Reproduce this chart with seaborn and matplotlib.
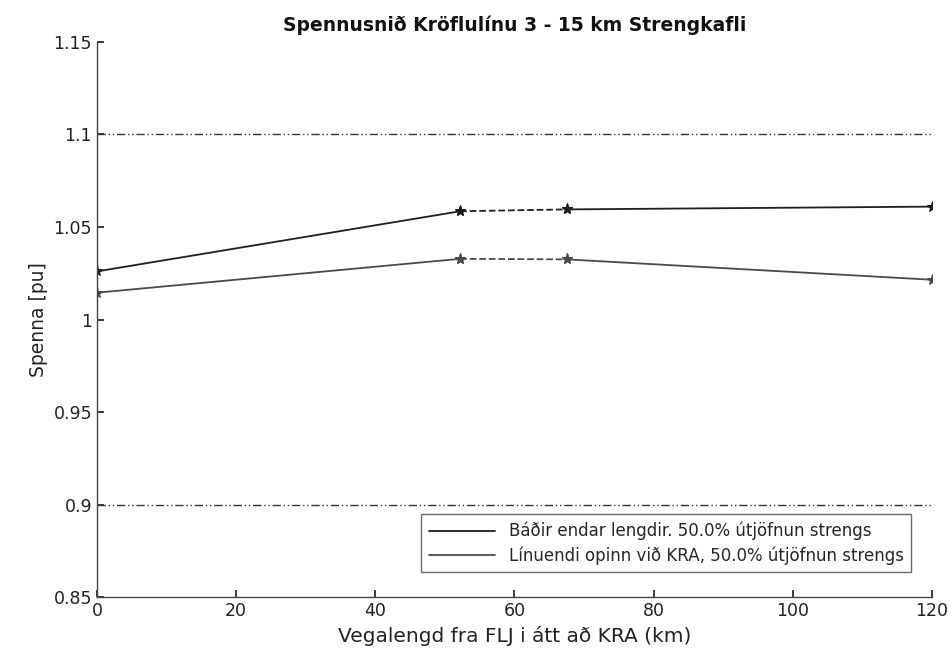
import matplotlib
matplotlib.use("Agg")
import matplotlib.pyplot as plt
import seaborn as sns
import pandas as pd
from matplotlib.lines import Line2D

distance = [0, 52.2, 67.5, 120]
voltage_both = [1.026, 1.0585, 1.0595, 1.061]
voltage_open = [1.0145, 1.0328, 1.0325, 1.0215]
labels = ["Báðir endar lengdir. 50.0% útjöfnun strengs",
          "Línuendi opinn við KRA, 50.0% útjöfnun strengs"]
limits = [1.1, 0.9]
xticks = [0, 20, 40, 60, 80, 100, 120]
yticks = [0.85, 0.9, 0.95, 1.0, 1.05, 1.1, 1.15]
yticklabels = ["0.85", "0.9", "0.95", "1", "1.05", "1.1", "1.15"]

sns.set_theme(style="ticks")
plt.rcParams['font.family'] = ['DejaVu Sans']

fig = plt.figure(figsize=(9.5, 6.65), dpi=100)
ax = fig.add_axes([0.102, 0.102, 0.879, 0.835])

colors = ["#1e1e1e", "#4a4a4a"]
for vals, c in zip([voltage_both, voltage_open], colors):
    df = pd.DataFrame({"x": distance, "y": vals})
    seg1 = df.iloc[0:2]
    seg2 = df.iloc[1:3]
    seg3 = df.iloc[2:4]
    sns.lineplot(data=seg1, x="x", y="y", ax=ax, color=c, lw=1.3, marker="*",
                 markersize=8, markeredgecolor=c, sort=False)
    sns.lineplot(data=seg2, x="x", y="y", ax=ax, color=c, lw=1.3, ls="--",
                 marker="*", markersize=8, markeredgecolor=c, sort=False)
    sns.lineplot(data=seg3, x="x", y="y", ax=ax, color=c, lw=1.3, marker="*",
                 markersize=8, markeredgecolor=c, sort=False)

for lim in limits:
    ax.axhline(lim, color="#333333", lw=1.0, ls=(0, (6, 2, 1, 2, 1, 2)))

ax.set_xlim(0, 120)
ax.set_ylim(0.85, 1.15)
ax.set_xticks(xticks)
ax.set_yticks(yticks)
ax.set_yticklabels(yticklabels)
ax.tick_params(direction="in", length=5, labelsize=12.5, colors="#222222")
for s in ["top", "right"]:
    ax.spines[s].set_visible(False)
for s in ["left", "bottom"]:
    ax.spines[s].set_color("#444444")
    ax.spines[s].set_linewidth(1.0)

ax.set_title("Spennusnið Kröflulínu 3 - 15 km Strengkafli", fontsize=13.5,
             fontweight="bold", color="#111111", pad=8)
ax.set_xlabel("Vegalengd fra FLJ i átt að KRA (km)", fontsize=14.5, color="#222222")
ax.set_ylabel("Spenna [pu]", fontsize=13.5, color="#222222")

handles = [Line2D([0], [0], color=c, lw=1.3) for c in colors]
leg = ax.legend(handles, labels, loc="lower right", bbox_to_anchor=(0.985, 0.03),
                fontsize=12, frameon=True, fancybox=False, edgecolor="#444444",
                handlelength=4, borderpad=0.45, labelspacing=0.35)
leg.get_frame().set_linewidth(1.0)

fig.savefig("out.png", dpi=100)
